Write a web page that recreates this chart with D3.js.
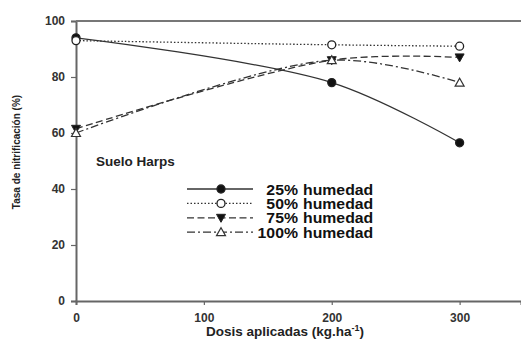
<!DOCTYPE html>
<html>
<head>
<meta charset="utf-8">
<script src="https://cdn.jsdelivr.net/npm/d3@7"></script>
<style>
  body { margin: 0; background: #fff; }
  text { font-family: "Liberation Sans", Arial, sans-serif; font-weight: bold; }
</style>
</head>
<body>
<div id="chart"></div>
<script>
// Data
const doses = [0, 200, 300];
const hum25 = [94, 78, 56.5];
const hum50 = [93, 91.5, 91];
const hum75 = [61.5, 86, 87];
const hum100 = [60, 86, 78];
const seriesNames = ["25%", "50%", "75%", "100%"];
const xTicks = [0, 100, 200, 300];
const yTicks = [0, 20, 40, 60, 80, 100];

const W = 521, H = 348;
const margin = {top: 21, right: 0, bottom: 47, left: 76};
const width = W - margin.left - margin.right,
      height = H - margin.top - margin.bottom;

const x = d3.scaleLinear().domain([0, 348]).range([0, width]);
const y = d3.scaleLinear().domain([0, 100]).range([height, 0]);

const svg = d3.select("#chart").append("svg")
    .attr("width", W)
    .attr("height", H);

const g = svg.append("g")
    .attr("transform", `translate(${margin.left},${margin.top})`);

// axes
const xAxis = g.append("g")
    .attr("transform", `translate(0,${height})`)
    .call(d3.axisBottom(x).tickValues(xTicks).tickSizeOuter(0).tickSize(4).tickPadding(8));
const yAxis = g.append("g")
    .call(d3.axisLeft(y).tickValues(yTicks).tickSizeOuter(0).tickSize(5).tickPadding(6));

[xAxis, yAxis].forEach(a => {
  a.select(".domain").attr("stroke", "#666").attr("stroke-width", 2);
  a.selectAll(".tick line").attr("stroke", "#666").attr("stroke-width", 1.2);
  a.selectAll(".tick text")
    .attr("fill", "#333")
    .style("font-size", "12px")
    .style("font-family", "'Liberation Sans', Arial, sans-serif")
    .style("font-weight", "bold");
});

// top frame line
g.append("line")
    .attr("x1", 0).attr("x2", width)
    .attr("y1", y(100)).attr("y2", y(100))
    .attr("stroke", "#777").attr("stroke-width", 2);

const series = [
  {name: seriesNames[0], vals: hum25, dash: null, marker: "fillCircle"},
  {name: seriesNames[1], vals: hum50, dash: "1.5,2", marker: "openCircle"},
  {name: seriesNames[2], vals: hum75, dash: "7,3.5", marker: "fillTri"},
  {name: seriesNames[3], vals: hum100, dash: "8,3,2,3", marker: "openTri"}
];

const line = d3.line()
    .x(d => x(d[0]))
    .y(d => y(d[1]))
    .curve(d3.curveCatmullRom.alpha(0.5));

function drawMarker(sel, type, cx, cy) {
  if (type === "fillCircle" || type === "openCircle") {
    sel.append("circle")
      .attr("cx", cx).attr("cy", cy).attr("r", 4)
      .attr("fill", type === "fillCircle" ? "#111" : "#fff")
      .attr("stroke", "#222").attr("stroke-width", 1.3);
  } else if (type === "fillTri") {
    sel.append("path")
      .attr("d", `M${cx - 4.5},${cy - 3.5}L${cx + 4.5},${cy - 3.5}L${cx},${cy + 4.5}Z`)
      .attr("fill", "#111").attr("stroke", "#222").attr("stroke-width", 1);
  } else {
    sel.append("path")
      .attr("d", `M${cx - 4.5},${cy + 3.5}L${cx + 4.5},${cy + 3.5}L${cx},${cy - 4.5}Z`)
      .attr("fill", "#fff").attr("stroke", "#333").attr("stroke-width", 1.2);
  }
}

series.forEach(s => {
  const pts = doses.map((d, i) => [d, s.vals[i]]);
  g.append("path")
    .datum(pts)
    .attr("fill", "none")
    .attr("stroke", "#333")
    .attr("stroke-width", 1.3)
    .attr("stroke-dasharray", s.dash)
    .attr("d", line);
});
series.forEach(s => {
  doses.forEach((d, i) => drawMarker(g, s.marker, x(d), y(s.vals[i])));
});

// annotation
svg.append("text")
    .attr("x", 96).attr("y", 166)
    .style("font-size", "13.5px")
    .attr("fill", "#222")
    .text("Suelo Harps");

// legend (text slightly condensed vertically so rows don't collide)
const legend = svg.append("g");
series.forEach((s, i) => {
  const ly = 189 + i * 14.4;
  legend.append("line")
    .attr("x1", 187).attr("x2", 253)
    .attr("y1", ly).attr("y2", ly)
    .attr("stroke", "#333").attr("stroke-width", 1.3)
    .attr("stroke-dasharray", s.dash);
  drawMarker(legend, s.marker, 221, ly);
  const t = legend.append("g")
    .attr("transform", `translate(0,${ly + 5.5})`);
  t.append("text")
    .attr("x", 298)
    .attr("text-anchor", "end")
    .style("font-size", "14px")
    .attr("textLength", null)
    .attr("transform", "scale(1,1)")
    .attr("fill", "#111")
    .attr("transform", "translate(298,0) scale(1.13,1) translate(-298,0)")
    .text(s.name);
  t.append("text")
    .attr("x", 303)
    .style("font-size", "14px")
    .attr("fill", "#111")
    .attr("transform", "translate(303,0) scale(1.13,1) translate(-303,0)")
    .text("humedad");
});

// axis titles
const xt = svg.append("text")
    .attr("x", 206).attr("y", 336)
    .style("font-size", "13.5px")
    .attr("fill", "#222")
    .text("Dosis aplicadas (kg.ha");
xt.append("tspan").attr("dy", -5).style("font-size", "9px").text("-1");
xt.append("tspan").attr("dy", 5).text(")");

svg.append("text")
    .attr("transform", "translate(20,152) rotate(-90)")
    .attr("text-anchor", "middle")
    .style("font-size", "10px")
    .attr("fill", "#222")
    .text("Tasa de nitrificación (%)");
</script>
</body>
</html>
